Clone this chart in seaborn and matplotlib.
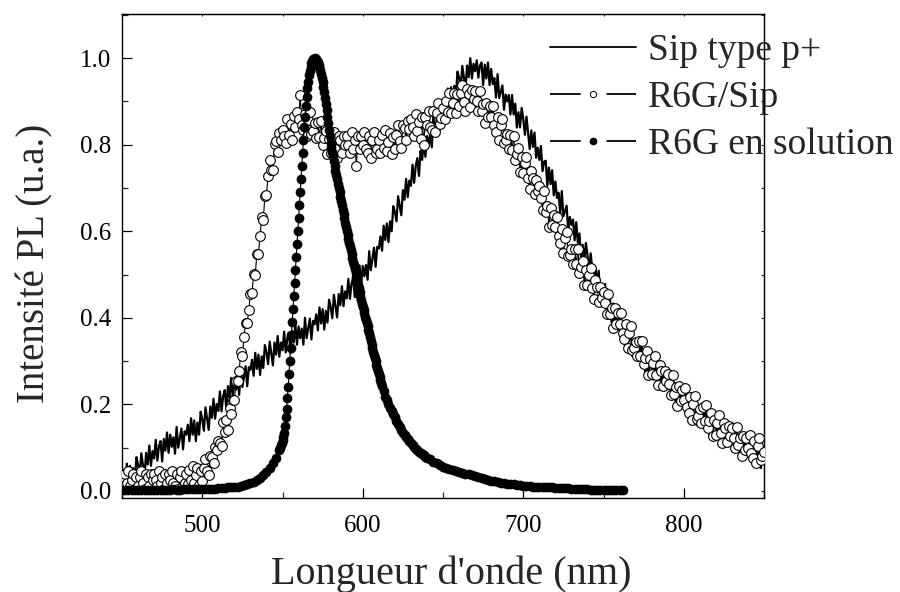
import numpy as np
import seaborn as sns
import matplotlib
matplotlib.use("Agg")
import matplotlib.pyplot as plt
from matplotlib.lines import Line2D
from matplotlib.ticker import MultipleLocator, FormatStrFormatter

# wavelength grids (nm)
wl = np.arange(450, 851, 1)
wl_sol = np.concatenate([np.arange(450, 548, 2), np.arange(548, 568, 0.5),
                         np.arange(568, 612, 0.5), np.arange(612, 640, 1),
                         np.arange(640, 763, 2)])

# Sip type p+ (solid line), one value per nm from 450
pl_sip = [
    .025, .048, .010, .063, .025, .058, .010, .053, .025, .078,  # 450
    .060, .034, .087, .061, .034, .088, .061, .105, .058, .092,  # 460
    .075, .118, .070, .103, .115, .068, .120, .093, .135, .088,  # 470
    .130, .102, .124, .086, .148, .100, .122, .144, .096, .138,  # 480
    .130, .153, .115, .168, .130, .163, .115, .158, .130, .183,  # 490
    .165, .139, .193, .167, .141, .195, .169, .213, .167, .201,  # 500
    .185, .230, .184, .219, .233, .188, .242, .217, .261, .216,  # 510
    .260, .234, .258, .222, .286, .240, .264, .288, .242, .286,  # 520
    .280, .303, .266, .319, .282, .315, .268, .311, .284, .337,  # 530
    .320, .293, .345, .318, .290, .343, .315, .358, .310, .343,  # 540
    .325, .368, .320, .353, .365, .318, .370, .343, .385, .338,  # 550
    .380, .353, .375, .338, .400, .353, .375, .398, .350, .393,  # 560
    .385, .408, .371, .424, .387, .420, .373, .416, .389, .442,  # 570
    .425, .399, .453, .427, .401, .455, .429, .473, .427, .461,  # 580
    .445, .490, .444, .479, .493, .448, .502, .477, .521, .476,  # 590
    .520, .496, .522, .488, .554, .510, .536, .562, .518, .564,  # 600
    .560, .588, .555, .613, .580, .618, .575, .623, .600, .658,  # 610
    .645, .623, .681, .659, .637, .695, .673, .721, .679, .717,  # 620
    .705, .754, .712, .751, .769, .728, .786, .765, .813, .772,  # 630
    .820, .798, .826, .794, .862, .820, .848, .876, .834, .882,  # 640
    .880, .907, .873, .930, .896, .933, .889, .936, .912, .969,  # 650
    .955, .929, .982, .956, .929, .983, .956, 1.00, .953, .987,  # 660
    .970, .995, .955, .983, .990, .938, .985, .953, .990, .938,  # 670
    .975, .940, .954, .909, .963, .908, .922, .937, .881, .916,  # 680
    .900, .915, .870, .915, .870, .895, .840, .875, .840, .885,  # 690
    .860, .823, .865, .828, .790, .833, .795, .828, .770, .793,  # 700
    .765, .797, .739, .761, .763, .705, .747, .709, .741, .683,  # 710
    .715, .677, .689, .641, .693, .635, .647, .659, .601, .633,  # 720
    .615, .627, .579, .621, .573, .595, .537, .569, .531, .573,  # 730
    .545, .507, .549, .511, .473, .515, .477, .509, .451, .473,  # 740
    .445, .478, .421, .444, .447, .390, .433, .396, .429, .372,  # 750
    .405, .370, .384, .339, .393, .338, .352, .367, .311, .346,  # 760
    .330, .345, .300, .345, .300, .325, .270, .305, .270, .315,  # 770
    .290, .257, .303, .270, .236, .283, .249, .286, .232, .259,  # 780
    .235, .272, .218, .245, .251, .198, .244, .211, .247, .194,  # 790
    .230, .197, .213, .170, .226, .173, .189, .206, .152, .189,  # 800
    .175, .192, .149, .196, .153, .180, .127, .164, .131, .178,  # 810
    .155, .123, .170, .138, .105, .153, .120, .158, .105, .133,  # 820
    .110, .148, .095, .123, .130, .078, .125, .093, .130, .078,  # 830
    .115, .084, .102, .061, .119, .068, .086, .105, .053, .092,  # 840
    .080,
]

# R6G/Sip (open circles), one value per nm from 450
pl_r6g_sip = [
    .032, .011, .039, .018, .046, .011, .025, .039, .004, .032,  # 450
    .011, .032, .046, .018, .004, .039, .032, .011, .039, .025,  # 460
    .039, .025, .011, .046, .018, .032, .004, .039, .018, .039,  # 470
    .025, .046, .018, .011, .039, .004, .032, .046, .011, .018,  # 480
    .038, .015, .048, .025, .058, .019, .036, .053, .014, .047,  # 490
    .024, .053, .074, .047, .036, .081, .078, .064, .101, .095,  # 500
    .116, .110, .104, .159, .137, .163, .141, .191, .177, .211,  # 510
    .210, .253, .254, .278, .322, .312, .356, .388, .388, .419,  # 520
    .456, .458, .502, .499, .548, .548, .590, .632, .627, .681,  # 530
    .684, .728, .764, .742, .741, .801, .808, .784, .826, .810,  # 540
    .835, .820, .804, .859, .823, .848, .812, .867, .841, .876,  # 550
    .860, .915, .846, .834, .872, .820, .858, .876, .824, .832,  # 560
    .850, .816, .852, .818, .854, .800, .816, .832, .778, .814,  # 570
    .780, .810, .830, .790, .770, .820, .810, .780, .820, .800,  # 580
    .820, .800, .780, .830, .790, .810, .750, .820, .790, .820,  # 590
    .800, .830, .790, .780, .820, .770, .810, .830, .780, .790,  # 600
    .810, .781, .822, .793, .834, .785, .806, .827, .778, .819,  # 610
    .790, .823, .846, .809, .792, .845, .838, .811, .854, .837,  # 620
    .860, .840, .821, .871, .832, .852, .813, .863, .800, .864,  # 630
    .845, .878, .841, .834, .877, .830, .873, .896, .849, .862,  # 640
    .885, .859, .902, .876, .919, .873, .896, .920, .873, .917,  # 650
    .890, .920, .939, .899, .878, .928, .917, .887, .926, .906,  # 660
    .925, .901, .877, .923, .879, .895, .851, .897, .863, .889,  # 670
    .865, .890, .845, .830, .865, .810, .845, .860, .805, .810,  # 680
    .825, .789, .823, .787, .821, .765, .779, .793, .737, .771,  # 690
    .735, .758, .771, .724, .697, .740, .723, .686, .719, .692,  # 700
    .705, .678, .650, .693, .645, .658, .610, .653, .615, .638,  # 710
    .610, .634, .588, .572, .606, .550, .584, .598, .542, .546,  # 720
    .560, .525, .559, .524, .558, .503, .517, .532, .476, .511,  # 730
    .475, .500, .514, .469, .443, .488, .472, .437, .471, .446,  # 740
    .460, .435, .409, .454, .408, .423, .377, .422, .386, .411,  # 750
    .385, .410, .365, .350, .385, .330, .365, .380, .325, .330,  # 760
    .345, .311, .346, .312, .347, .293, .308, .324, .269, .305,  # 770
    .270, .296, .312, .268, .244, .290, .276, .242, .278, .254,  # 780
    .270, .246, .222, .268, .224, .240, .196, .242, .208, .234,  # 790
    .210, .237, .194, .181, .218, .165, .202, .219, .166, .173,  # 800
    .190, .157, .194, .161, .198, .145, .162, .179, .126, .163,  # 810
    .130, .158, .175, .133, .110, .158, .145, .113, .150, .128,  # 820
    .145, .123, .100, .148, .105, .123, .080, .128, .095, .123,  # 830
    .100, .129, .088, .077, .116, .065, .104, .123, .072, .081,  # 840
    .090,
]

# R6G en solution (filled circles), on wl_sol
pl_r6g_sol = [
    # 450-498 step 2
    .003, .002, .003, .003, .002, .003, .003, .003, .002, .003,
    .003, .003, .003, .003, .003, .003, .004, .003, .003, .004,
    .004, .004, .004, .004, .004,
    # 500-546 step 2
    .004, .004, .005, .005, .005, .006, .006, .007, .008, .008,
    .009, .010, .011, .013, .015, .018, .021, .025, .030, .036,
    .044, .053, .064, .077,
    # 548-567.5 step 0.5
    .095, .100, .105, .110, .118, .125, .135, .150, .170, .190,
    .215, .240, .270, .300, .330, .360, .390, .420, .450, .480,
    .510, .540, .570, .600, .630, .660, .690, .720, .750, .780,
    .810, .840, .865, .890, .910, .930, .945, .960, .970, .980,
    # 568-611.5 step 0.5
    .988, .993, .997, .999, 1.00, .999, .997, .994, .990, .985,
    .979, .972, .964, .955, .945, .934, .922, .909, .895, .880,
    .865, .850, .835, .820, .805, .795, .784, .773, .762, .751,
    .740, .730, .720, .710, .700, .690, .680, .670, .660, .650,
    .640, .630, .620, .610, .600, .591, .582, .573, .565, .556,
    .547, .538, .530, .521, .512, .503, .495, .486, .477, .468,
    .460, .451, .442, .433, .425, .417, .410, .402, .395, .387,
    .380, .372, .365, .356, .347, .338, .330, .322, .315, .307,
    .300, .292, .285, .277, .270, .263, .256, .249,
    # 612-639 step 1
    .243, .230, .218, .209, .200, .192, .185, .177, .170, .162,
    .155, .147, .140, .135, .130, .125, .120, .115, .110, .106,
    .102, .098, .095, .091, .088, .085, .082, .079,
    # 640-762 step 2
    .077, .073, .068, .064, .060, .056,
    .053, .050, .048, .046, .044, .042, .040, .038, .036, .034,
    .032, .030, .028, .026, .024, .022, .021, .019, .018, .017,
    .016, .015, .014, .013, .012, .011, .011, .010, .010, .009,
    .009, .008, .008, .008, .007, .007, .006, .006, .006, .005,
    .005, .005, .004, .004, .004, .003, .003, .003, .003, .002,
    .002, .002, .002, .001, .001, .001,
]

labels = ["Sip type p+", "R6G/Sip", "R6G en solution"]

sns.set_style("ticks")
plt.rcParams["font.family"] = ["Liberation Serif", "DejaVu Serif"]

fig = plt.figure(figsize=(9, 5.92), dpi=100)
ax = fig.add_axes([0.1356, 0.1583, 0.7133, 0.818])

sns.lineplot(x=wl, y=pl_sip, ax=ax, sort=False, estimator=None,
             color="black", lw=1.6, zorder=2)
sns.lineplot(x=wl, y=pl_r6g_sip, ax=ax, sort=False, estimator=None,
             color="black", lw=0.8, marker="o", markersize=7,
             markerfacecolor="white", markeredgecolor="black",
             markeredgewidth=0.8, zorder=3)
sns.lineplot(x=wl_sol, y=pl_r6g_sol, ax=ax, sort=False, estimator=None,
             color="black", lw=0.8, marker="o", markersize=6.5,
             markerfacecolor="black", markeredgecolor="black",
             markeredgewidth=0.5, zorder=4)

ax.set_xlim(450, 850)
ax.set_ylim(-0.017, 1.102)
ax.xaxis.set_major_locator(MultipleLocator(100))
ax.xaxis.set_minor_locator(MultipleLocator(50))
ax.yaxis.set_major_locator(MultipleLocator(0.2))
ax.yaxis.set_minor_locator(MultipleLocator(0.1))
ax.yaxis.set_major_formatter(FormatStrFormatter("%.1f"))
ax.tick_params(which="major", direction="in", length=7, width=0.9,
               labelsize=18, colors="black")
ax.tick_params(axis="x", which="major", pad=12)
ax.tick_params(axis="y", which="major", pad=8)
ax.tick_params(which="minor", direction="in", length=4.5, width=0.9)
for sp in ax.spines.values():
    sp.set_linewidth(1.0)
    sp.set_color("black")
    sp.set_visible(True)

# tiny ticks on top/right
secy = ax.secondary_yaxis("right")
secy.set_yticks(np.arange(0, 1.11, 0.1))
secy.tick_params(direction="in", length=2.5, width=0.8, labelright=False)
secx = ax.secondary_xaxis("top")
secx.set_xticks(np.arange(450, 851, 50))
secx.tick_params(direction="in", length=1.5, width=0.8, labeltop=False)

ax.set_xlabel("Longueur d'onde (nm)", fontsize=29, labelpad=13, x=0.5125)
ax.set_ylabel("Intensité PL (u.a.)", fontsize=28, labelpad=19, y=0.486)

lw_leg = 1.3
handles = [
    Line2D([], [], color="black", lw=lw_leg),
    Line2D([], [], color="black", lw=lw_leg, dashes=(17, 14.3),
           marker="o", markersize=4.5, markerfacecolor="white",
           markeredgewidth=0.7),
    Line2D([], [], color="black", lw=lw_leg, dashes=(17, 14.3),
           marker="o", markersize=4.5, markerfacecolor="black"),
]
leg = ax.legend(handles, labels, loc="upper left", bbox_to_anchor=(0.667, 0.96),
                frameon=False, fontsize=27, handlelength=2.3, handletextpad=0.3,
                labelspacing=0.33, borderpad=0, borderaxespad=0, numpoints=1)
leg.set_zorder(2.4)

fig.savefig("out.png", dpi=100)
